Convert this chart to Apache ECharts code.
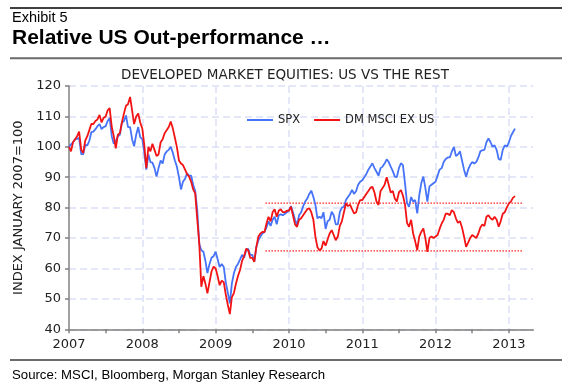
<!DOCTYPE html>
<html><head><meta charset="utf-8">
<script src="https://cdn.jsdelivr.net/npm/echarts@6/dist/echarts.min.js"></script>
<style>html,body{margin:0;padding:0;background:#fff}#c{width:572px;height:388px}</style>
</head><body><div id="c"></div>
<script>
// ---- data (sampled on the 1st, 11th and 21st of each month) ----
const years = [2007, 2008, 2009, 2010, 2011, 2012, 2013];
const yearLabels = [2007, 2008, 2009, 2010, 2011, 2012, 2013];
const halfYearTicks = [2007, 2007.5, 2008, 2008.5, 2009, 2009.5, 2010, 2010.5, 2011, 2011.5, 2012, 2012.5, 2013];
const seriesNames = ['SPX', 'DM MSCI EX US'];

const spx2007 = [100,100.8,101.5, 102.5,102.6,103, 97.6,97.5,100.6, 100.5,102,104.8, 105,105.8,106.8, 107.5,105.8,106.5,
                 106.8,108.5,109.5, 103.5,101,101.8, 103.5,104,107.9, 108.5,110.3,106.5, 106.5,102.5,100.2, 104,106.5,103.2];
const spx2008 = [102.5,98,92.5, 97.5,95,94.8, 93,90.2,93, 95.5,94.5,97.5, 98.5,99,100, 98,95.5,93.5,
                 90,86,88.5, 89.5,91.3,90.5, 90.5,87.5,85.5, 79,68,66, 65.5,62.5,58.5, 61.5,63.5,64];
const spx2009 = [65.5,63,60.5, 61.5,60.5,55.5, 52,48.5,55, 58.5,60.5,61.5, 63,64.5,63.5, 66,66.5,64.5,
                 64.5,62.2,67, 69.3,70.5,71.5, 72,73.5,75.5, 74,76,77, 74.5,77.5,77.8, 77.5,78,78.5];
const spx2010 = [79,80.5,78.5, 76,74.3,77.5, 78.5,80.5,82, 83,84.5,85.6, 83.5,81,76.5, 77,76.5,78.5,
                 73,75.5,76, 78.7,77.5,74.5, 74.5,78.5,80, 80.3,82.5,83.5, 84.5,85.8,84.5, 85.5,87.5,88.5];
const spx2011 = [89,90,91, 92.5,93.5,94.6, 93,91.8,90.5, 93,93.5,94.5, 95.9,95,93.5, 92,90.2,90,
                 93,94.6,94, 88,81.5,80.3, 83.5,82,82.5, 78.1,84,88, 90.2,86.5,82, 87,87.5,88];
const spx2012 = [88.5,90.5,92.5, 93,95,96, 96.5,96.5,98.4, 100,97,97.5, 98.5,95.5,92.5, 90.2,92.5,94,
                 95,94.5,95, 96.5,98.5,98.9, 99,101.5,102.8, 101.5,100,100.5, 99,96,95.7, 99,100.5,100];
const spx2013 = [101.5,103.5,104.8,106];

const dm2007 = [100,98.5,101.5, 102.5,103.5,105, 99,98,102, 103.5,105.5,107.5, 107.5,108.5,109, 110.5,108,109.5,
                110,112,112.7, 106.5,103.5,99.5, 104,104.5,108, 111,113.5,114, 116.4,112,107.5, 110,111,108];
const dm2008 = [106,100.5,93, 100,98.5,101, 99,97,97.5, 101.5,102.5,104.5, 105.5,106.5,108.3, 106,103,100,
                95.5,94.5,94, 92.5,91,90.2, 88.5,86,84.7, 76,68,54, 57.5,55,51.8, 55.5,59,60.6];
const dm2009 = [60,57.5,54.5, 56,55.5,51.5, 48,45,50.5, 52,55,57.5, 59.5,62.5,64, 66.5,66,63.5,
                63.5,62.2,67, 70.5,71.5,72, 72,74.8,77, 75.5,78.5,79.5, 77,79,79.5, 78.5,78.5,79];
const dm2010 = [79,80.3,77.5, 74.5,73.7,76, 76.5,77.5,78.5, 79.5,79.8,78.5, 76,70.5,67, 66,66.5,69,
                67.5,69.5,71.5, 72.6,71,69.3, 70.5,74,75.5, 78.5,81.4,80.5, 81,79.5,78.1, 78.5,81,82.5];
const dm2011 = [82.5,83.5,84.5, 85.5,86.5,86.9, 85,82,80.9, 85.5,86.5,87.5, 90,87.5,85, 85.5,83,82,
                85,85.8,84, 81,75,73.7, 76,71.5,69, 66,70.5,72, 73.2,70,65.5, 70,70.5,70];
const dm2012 = [70.5,71,73, 74.8,76,78, 78,77.5,79.2, 78.5,76.5,75, 75.5,73.5,70.5, 67.1,68.5,70,
                71,70.5,70, 71.5,73.5,74.5, 74,77,77.5, 76.5,76,77, 76,73.7,75.5, 78,78.5,80];
const dm2013 = [81.4,82,83.2,83.8];

// dotted reference levels drawn on the chart
const refLevels = [81.5, 65.8];
const refSpan = [2009.68, 2013.2];

// ---- build ----
const DAYS = [1, 11, 21];
function toDecimal(year, i) {
  const m = Math.floor(i / 3), d = DAYS[i % 3];
  return year + (m + (d - 1) / 30.5) / 12;
}
function build(perYear) {
  const out = [];
  years.forEach((y, k) => perYear[k].forEach((v, i) => out.push([toDecimal(y, i), v])));
  return out;
}
const spxData = build([spx2007, spx2008, spx2009, spx2010, spx2011, spx2012, spx2013]);
const dmData = build([dm2007, dm2008, dm2009, dm2010, dm2011, dm2012, dm2013]);

const FONT = 'DejaVu Sans';
const AX = '#808080';
const GRID = '#dcdff5';
const REF = '#ff1010';
const refSeries = refLevels.map((l, k) => ({
  name: 'ref' + k, type: 'line', xAxisIndex: 0, silent: true,
  data: [[refSpan[0], l], [refSpan[1], l]],
  showSymbol: false, symbol: 'none', color: REF,
  lineStyle: {type: [1.4, 1.6], color: REF, width: 1.3}, z: 2
}));
const chart = echarts.init(document.getElementById('c'), null, {renderer: 'canvas'});
chart.setOption({
  animation: false,
  backgroundColor: '#fff',
  grid: {left: 69, right: 38.7, top: 86, bottom: 58.7, containLabel: false, outerBoundsMode: 'none'},
  legend: {
    show: true, data: seriesNames, left: 242, top: 109, icon: 'rect',
    itemWidth: 26, itemHeight: 2, itemGap: 14,
    textStyle: {fontFamily: FONT, fontSize: 11.5, color: '#222'}
  },
  xAxis: [{
    type: 'value', min: 2007, max: 2013.333, position: 'bottom',
    axisLine: {show: true, onZero: false, lineStyle: {color: AX, width: 1.5}},
    axisTick: {show: true, customValues: halfYearTicks, length: 4, lineStyle: {color: AX, width: 1.5}},
    axisLabel: {customValues: yearLabels, formatter: v => String(Math.round(v)),
      fontFamily: FONT, fontSize: 13, color: '#222', margin: 9},
    splitLine: {show: false}
  }, {
    type: 'value', min: 2007, max: 2013.333, interval: 1, position: 'bottom',
    axisLine: {show: false}, axisTick: {show: false}, axisLabel: {show: false},
    splitLine: {show: true, showMinLine: false, showMaxLine: false, lineStyle: {type: [7, 4], color: GRID, width: 1.5}}
  }],
  yAxis: {
    type: 'value', min: 40, max: 120, interval: 10,
    axisLine: {show: true, onZero: false, lineStyle: {color: AX, width: 1.5}},
    axisTick: {show: true, length: 4, lineStyle: {color: AX, width: 1.5}},
    axisLabel: {fontFamily: FONT, fontSize: 13, color: '#222', margin: 8},
    splitLine: {show: true, lineStyle: {type: [7, 4], color: GRID, width: 1.5}},
    name: 'INDEX JANUARY 2007=100', nameLocation: 'middle', nameGap: 27,
    nameTextStyle: {fontFamily: FONT, fontSize: 13, color: '#222'}
  },
  series: [{
    name: seriesNames[0], type: 'line', data: spxData, xAxisIndex: 0,
    showSymbol: false, symbol: 'none', color: '#4673f8',
    lineStyle: {width: 1.8, color: '#4673f8'}, z: 3
  }, {
    name: seriesNames[1], type: 'line', data: dmData, xAxisIndex: 0,
    showSymbol: false, symbol: 'none', color: '#f21414',
    lineStyle: {width: 1.8, color: '#f21414'}, z: 4
  }].concat(refSeries),
  graphic: [
    {type: 'line', shape: {x1: 10, y1: 8, x2: 562, y2: 8}, style: {stroke: '#000', lineWidth: 1.3}},
    {type: 'text', x: 12, y: 18, style: {text: 'Exhibit 5', font: '14.5px "Liberation Sans", Arial, sans-serif', fill: '#000', textVerticalAlign: 'middle', verticalAlign: 'middle'}},
    {type: 'text', x: 12, y: 38.5, style: {text: 'Relative US Out-performance \u2026', font: 'bold 21px "Liberation Sans", Arial, sans-serif', fill: '#000', textVerticalAlign: 'middle', verticalAlign: 'middle'}},
    {type: 'line', shape: {x1: 10, y1: 58.3, x2: 562, y2: 58.3}, style: {stroke: '#6a6a6a', lineWidth: 2}},
    {type: 'text', x: 285, y: 75.8, style: {text: 'DEVELOPED MARKET EQUITIES: US VS THE REST', font: '13.5px "DejaVu Sans"', fill: '#222', textAlign: 'center', align: 'center', textVerticalAlign: 'middle', verticalAlign: 'middle'}},
    {type: 'line', shape: {x1: 10, y1: 360, x2: 562, y2: 360}, style: {stroke: '#6a6a6a', lineWidth: 2}},
    {type: 'text', x: 12, y: 375.3, style: {text: 'Source: MSCI, Bloomberg, Morgan Stanley Research', font: '13.2px "Liberation Sans", Arial, sans-serif', fill: '#000', textVerticalAlign: 'middle', verticalAlign: 'middle'}}
  ]
});
</script>
</body></html>
